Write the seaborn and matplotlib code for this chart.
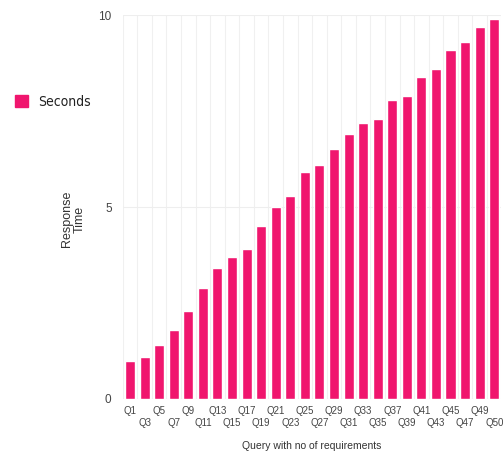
import matplotlib
matplotlib.use("Agg")
import matplotlib.pyplot as plt
import seaborn as sns
import pandas as pd
import numpy as np

queries = ["Q1", "Q3", "Q5", "Q7", "Q9", "Q11", "Q13", "Q15", "Q17", "Q19",
           "Q21", "Q23", "Q25", "Q27", "Q29", "Q31", "Q33", "Q35", "Q37", "Q39",
           "Q41", "Q43", "Q45", "Q47", "Q49", "Q50"]
seconds = [1.0, 1.1, 1.4, 1.8, 2.3, 2.9, 3.4, 3.7, 3.9, 4.5,
           5.0, 5.3, 5.9, 6.1, 6.5, 6.9, 7.2, 7.3, 7.8, 7.9,
           8.4, 8.6, 9.1, 9.3, 9.7, 9.9]
y_ticks = [0, 5, 10]

BAR = "#F0166E"
TEXT = "#444444"

sns.set_theme(style="white")
plt.rcParams["font.family"] = ["Liberation Sans", "DejaVu Sans"]

df = pd.DataFrame({"query": queries, "seconds": seconds})

fig = plt.figure(figsize=(5.03, 4.57), dpi=100)
ax = fig.add_axes([0.244, 0.127, 0.753, 0.840])

sns.barplot(data=df, x="query", y="seconds", color=BAR, saturation=1,
            width=0.69, legend=False, ax=ax)

ax.set_xlim(-0.5, len(queries) - 0.5)
ax.set_ylim(0, 10)
ax.set_yticks(y_ticks)
ax.set_yticklabels([str(t) for t in y_ticks], fontsize=8.5, color=TEXT)

ax.set_xticks(range(len(queries)))
ax.set_xticklabels(queries, fontsize=7, color=TEXT)
ax.tick_params(axis="x", length=0)
ax.tick_params(axis="y", length=0, pad=8)
# stagger category labels over two rows
for i, tick in enumerate(ax.xaxis.get_major_ticks()):
    tick.set_pad(5 if i % 2 == 0 else 14)

# faint grid: vertical lines between categories, horizontal at ticks
for xb in np.arange(-0.5, len(queries), 1.0):
    ax.axvline(xb, color="#f0f0f0", lw=0.8, zorder=0)
for yt in y_ticks:
    ax.axhline(yt, color="#eeeeee", lw=0.8, zorder=0)

for s in ax.spines.values():
    s.set_visible(False)

ax.set_xlabel("Query with no of requirements", fontsize=7.5, color="#333333")
ax.xaxis.set_label_coords(0.5, -(446 - 399) / 384)
ax.xaxis.label.set_va("center")

ax.set_ylabel("Response\nTime", fontsize=9, color="#333333", linespacing=1.05)
ax.yaxis.set_label_coords((73 - 122.7) / 378.6, (399 - 219) / 384)
ax.yaxis.label.set_va("center")

handle = plt.Rectangle((0, 0), 1, 1, color=BAR)
fig.legend([handle], ["Seconds"], loc="center left",
           bbox_to_anchor=(15 / 503, 1 - 102 / 457), frameon=False,
           borderaxespad=0, borderpad=0,
           handlelength=0.95, handleheight=0.95, handletextpad=0.75,
           prop={"family": "DejaVu Sans", "stretch": "condensed",
                 "weight": "light", "size": 10},
           labelcolor="#222222")

fig.savefig("out.png", dpi=100)
